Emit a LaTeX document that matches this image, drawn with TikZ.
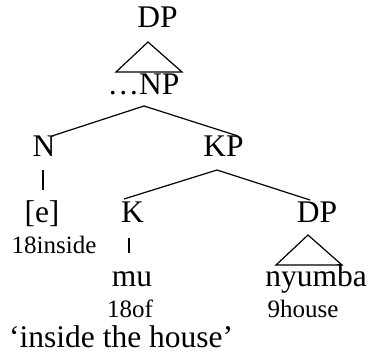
\documentclass[tikz,border=0pt]{standalone}
\usepackage{fontspec}
\setmainfont{Liberation Serif}
\begin{document}
\begin{tikzpicture}[x=1pt,y=-1pt,
  lbl/.style={inner sep=0pt,anchor=base,font=\fontsize{31.5}{34}\selectfont},
  gloss/.style={inner sep=0pt,anchor=base,font=\fontsize{25}{28}\selectfont},
  branch/.style={line width=1.2pt,black},
  stem/.style={line width=1.6pt,black},
  roof/.style={line width=1.2pt,black,line join=miter}]
\useasboundingbox (0,0) rectangle (370,358);

% category labels
\node[lbl] (dp1) at (157.5,28) {DP};
\node[lbl] (np) at (143.5,95) {…NP};
\node[lbl] (n) at (44,157) {N};
\node[lbl] (kp) at (223.5,157) {KP};
\node[lbl] (e) at (42,223) {[e]};
\node[lbl] (k) at (132.5,223) {K};
\node[lbl] (dp2) at (317,223) {DP};
\node[lbl] (mu) at (132,287) {mu};
\node[lbl] (nyumba) at (316,287) {nyumba};

% glosses
\node[gloss] (g1) at (54,254) {18inside};
\node[gloss] (g2) at (130,318) {18of};
\node[gloss] (g3) at (303,318) {9house};
\node[lbl,anchor=base west] (tr) at (9,348) {‘inside the house’};

% tree joints
\coordinate (dp1-top) at (148,42);
\coordinate (dp1-l) at (116,72);
\coordinate (dp1-r) at (182,72);
\coordinate (np-top) at (144,106);
\coordinate (n-top) at (52,136);
\coordinate (kp-l) at (238,136);
\coordinate (kp-top) at (217,170);
\coordinate (k-top) at (124,199);
\coordinate (dp2-end) at (310,200);
\coordinate (n-bot) at (43,170);
\coordinate (e-top) at (43,190);
\coordinate (k-bot) at (129,238);
\coordinate (mu-top) at (129,253);
\coordinate (dp2-top) at (308,235);
\coordinate (dp2-l) at (276,265);
\coordinate (dp2-r) at (342,265);

% roofs
\draw[roof] (dp1-top) -- (dp1-l) -- (dp1-r) -- cycle;
\draw[roof] (dp2-top) -- (dp2-l) -- (dp2-r) -- cycle;

% branches
\draw[branch] (n-top) -- (np-top) -- (kp-l);
\draw[branch] (k-top) -- (kp-top) -- (dp2-end);
\draw[stem] (n-bot) -- (e-top);
\draw[stem] (k-bot) -- (mu-top);
\end{tikzpicture}
\end{document}
